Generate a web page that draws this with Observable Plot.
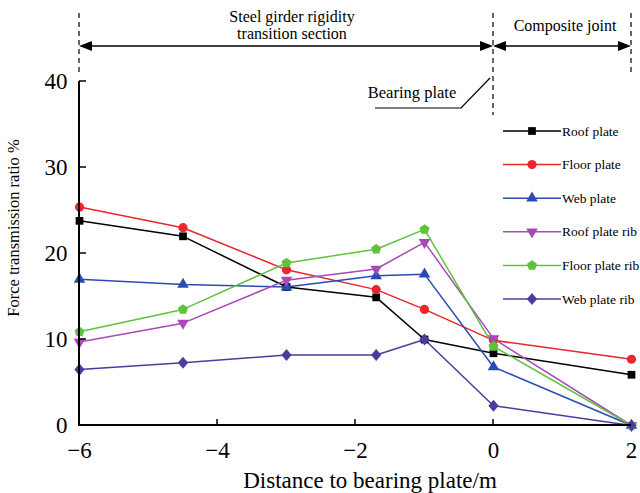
<!DOCTYPE html>
<html><head><meta charset="utf-8">
<script src="https://cdn.jsdelivr.net/npm/d3@7"></script>
<script src="https://cdn.jsdelivr.net/npm/@observablehq/plot@0.6"></script>
<style>body{margin:0;background:#fff}</style>
</head><body><div id="chart"></div>
<script>
// ---- data ----
const distances = [-6, -4.5, -3, -1.7, -1, 0, 2];
const roofPlate      = [23.8, 22.0, 16.1, 14.9, 10.0, 8.4, 5.9];
const floorPlate     = [25.4, 23.0, 18.1, 15.8, 13.5, 9.9, 7.7];
const webPlate       = [17.0, 16.4, 16.1, 17.4, 17.6, 6.8, 0];
const roofPlateRib   = [9.7, 11.9, 16.9, 18.2, 21.3, 10.1, 0];
const floorPlateRib  = [10.9, 13.5, 18.9, 20.5, 22.8, 9.2, 0];
const webPlateRib    = [6.5, 7.3, 8.2, 8.2, 10.0, 2.3, 0];
const seriesNames  = ["Roof plate", "Floor plate", "Web plate", "Roof plate rib", "Floor plate rib", "Web plate rib"];
const seriesValues = [roofPlate, floorPlate, webPlate, roofPlateRib, floorPlateRib, webPlateRib];
const seriesColors = ["#000000", "#e8262b", "#2a4cb2", "#a74ab5", "#5fc23b", "#4b3c9e"];
const xTicks = [-6, -4, -2, 0, 2];
const yTicks = [0, 10, 20, 30, 40];
const xLabel = "Distance to bearing plate/m";
const yLabel = "Force transmission ratio %";
const sectionLabels = [["Steel girder rigidity", "transition section"], ["Composite joint"]];
const sectionBounds = [-6, 0, 2];
const bearingLabel = "Bearing plate";

// ---- symbols ----
const s3 = Math.sqrt(3);
const triDown = {draw(ctx, size){ const y = -Math.sqrt(size/(s3*3)); ctx.moveTo(0, -2*y); ctx.lineTo(-s3*y, y); ctx.lineTo(s3*y, y); ctx.closePath(); }};
const triUp = {draw(ctx, size){ const y = -Math.sqrt(size/(s3*3)); ctx.moveTo(0, 2*y); ctx.lineTo(-s3*y, -y); ctx.lineTo(s3*y, -y); ctx.closePath(); }};
const pentagon = {draw(ctx, size){ const r = Math.sqrt(size/2.38); for (let i=0;i<5;i++){ const a = -Math.PI/2 + i*2*Math.PI/5; const px=r*Math.cos(a), py=r*Math.sin(a); i?ctx.lineTo(px,py):ctx.moveTo(px,py);} ctx.closePath(); }};
const squareSym = {draw(ctx, size){ const w = Math.sqrt(size); ctx.rect(-w/2,-w/2,w,w); }};
const diamondSym = {draw(ctx, size){ const r = Math.sqrt(size/2)*1.05; ctx.moveTo(0,-r); ctx.lineTo(r*0.85,0); ctx.lineTo(0,r); ctx.lineTo(-r*0.85,0); ctx.closePath(); }};
const circleSym = {draw(ctx, size){ const r = Math.sqrt(size/Math.PI); ctx.moveTo(r,0); ctx.arc(0,0,r,0,2*Math.PI); }};
const symbols = [squareSym, circleSym, triUp, triDown, pentagon, diamondSym];
const symbolSizes = [60, 66, 58, 58, 66, 66];

const rows = [];
seriesNames.forEach((name, i) => distances.forEach((d, j) => rows.push({series: name, idx: i, x: d, y: seriesValues[i][j]})));

const FONT = "'Liberation Serif', 'Times New Roman', serif";
const marks = [];
seriesNames.forEach((name, i) => {
  const data = rows.filter(r => r.idx === i);
  marks.push(Plot.line(data, {x: "x", y: "y", stroke: seriesColors[i], strokeWidth: 1.5}));
});
seriesNames.forEach((name, i) => {
  const data = rows.filter(r => r.idx === i);
  const r = Math.sqrt(symbolSizes[i]/Math.PI);
  marks.push(Plot.dot(data, {x: "x", y: "y", symbol: () => symbols[i], r, fill: seriesColors[i], stroke: "none"}));
});

const plot = Plot.plot({
  width: 640, height: 493,
  marginTop: 81, marginBottom: 68, marginLeft: 79, marginRight: 9,
  style: {fontFamily: FONT, background: "#fff", overflow: "visible"},
  x: {domain: [-6, 2], ticks: xTicks},
  y: {domain: [0, 40], ticks: yTicks},
  symbol: {type: "identity"},
  marks: [
    Plot.axisX(xTicks, {tickSize: 0, tickPadding: 16, fontSize: 23, label: null, fill: "#000"}),
    Plot.axisY(yTicks, {tickSize: 0, tickPadding: 12, fontSize: 23, label: null, fill: "#000"}),
    ...marks
  ]
});
document.getElementById("chart").appendChild(plot);

// ---- axes lines, inward ticks, labels, annotations ----
const svg = d3.select(plot);
const xs = plot.scale("x"), ys = plot.scale("y");
const X = v => xs.apply(v), Y = v => ys.apply(v);
const g = svg.append("g").attr("fill", "none").attr("stroke", "#000");
g.append("line").attr("x1", X(-6)).attr("x2", X(-6)).attr("y1", Y(0)+1).attr("y2", Y(40)).attr("stroke-width", 2);
g.append("line").attr("x1", X(-6)-1).attr("x2", X(2)).attr("y1", Y(0)).attr("y2", Y(0)).attr("stroke-width", 2);
xTicks.slice(1, -1).forEach(t => g.append("line").attr("x1", X(t)).attr("x2", X(t)).attr("y1", Y(0)).attr("y2", Y(0)-6).attr("stroke-width", 1.5));
yTicks.slice(1).forEach(t => g.append("line").attr("x1", X(-6)).attr("x2", X(-6)+7).attr("y1", Y(t)).attr("y2", Y(t)).attr("stroke-width", 1.5));

svg.append("text").attr("x", 370).attr("y", 488).attr("text-anchor", "middle")
  .attr("font-family", FONT).attr("font-size", 23).attr("fill", "#000").text(xLabel);
svg.append("text").attr("transform", `translate(19,228) rotate(-90)`).attr("text-anchor", "middle")
  .attr("font-family", FONT).attr("font-size", 16.5).attr("fill", "#000").text(yLabel);

// section dashed lines
const dashTop = 13;
sectionBounds.forEach((b, i) => {
  g.append("line").attr("x1", X(b)).attr("x2", X(b)).attr("y1", dashTop).attr("y2", i === 1 ? 115 : 72)
    .attr("stroke-width", 1.2).attr("stroke-dasharray", "5,4");
});
// arrows
const ay = 46;
function arrowHead(xTip, dir){
  svg.append("polygon").attr("fill", "#000")
    .attr("points", `${xTip},${ay} ${xTip - dir*13},${ay-5} ${xTip - dir*13},${ay+5}`);
}
for (let i = 0; i < sectionBounds.length - 1; i++) {
  const a = X(sectionBounds[i]), b = X(sectionBounds[i+1]);
  g.append("line").attr("x1", a+2).attr("x2", b-2).attr("y1", ay).attr("y2", ay).attr("stroke-width", 1.5);
  arrowHead(a, -1); arrowHead(b, 1);
  const cx = (a + b) / 2;
  const lines = sectionLabels[i];
  lines.forEach((t, k) => svg.append("text").attr("x", cx + (lines.length === 2 ? 6 : 3)).attr("y", lines.length === 2 ? 22 + k*17 : 31)
    .attr("text-anchor", "middle").attr("font-family", FONT).attr("font-size", 16).attr("fill", "#000").text(t));
}
// bearing plate leader
svg.append("text").attr("x", 412).attr("y", 98).attr("text-anchor", "middle")
  .attr("font-family", FONT).attr("font-size", 16.5).attr("fill", "#000").text(bearingLabel);
g.append("polyline").attr("points", `375,108 461,108 ${X(0)-3},78`).attr("stroke-width", 1.2);

// legend
const lg = svg.append("g");
seriesNames.forEach((name, i) => {
  const yy = 131 + i*33.6;
  lg.append("line").attr("x1", 503).attr("x2", 561).attr("y1", yy).attr("y2", yy).attr("stroke", seriesColors[i]).attr("stroke-width", 1.5);
  lg.append("path").attr("transform", `translate(532,${yy})`).attr("fill", seriesColors[i])
    .attr("d", d3.symbol(symbols[i], symbolSizes[i])());
  lg.append("text").attr("x", 562).attr("y", yy + 4.5).attr("text-anchor", "start")
    .attr("font-family", FONT).attr("font-size", 13.5).attr("fill", "#000").text(name);
});
</script>
</body></html>
